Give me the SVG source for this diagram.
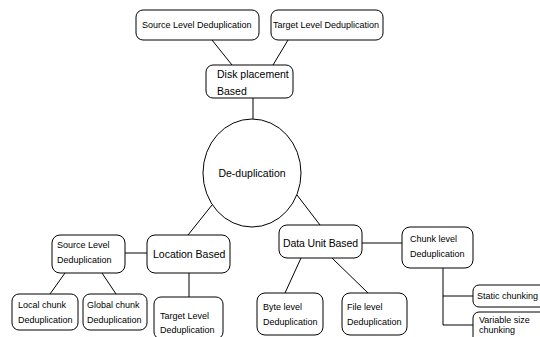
<svg xmlns="http://www.w3.org/2000/svg" width="540" height="337" viewBox="0 0 540 337">
<style>
.b{fill:#fff;stroke:#000;stroke-width:1}
.c{stroke:#000;stroke-width:1;fill:none}
text{font-family:"Liberation Sans",Arial,sans-serif;fill:#000}
.s{font-size:9px}
.m{font-size:10.5px}
</style>
<rect width="540" height="337" fill="#fff"/>
<g id="connectors">
<line class="c" x1="212" y1="40" x2="232" y2="65"/>
<line class="c" x1="288" y1="40" x2="273" y2="65"/>
<line class="c" x1="253" y1="98" x2="253" y2="119"/>
<line class="c" x1="212" y1="205" x2="188" y2="235"/>
<line class="c" x1="297" y1="195" x2="320" y2="225"/>
<line class="c" x1="125" y1="253" x2="147" y2="253"/>
<line class="c" x1="65" y1="273" x2="50" y2="294"/>
<line class="c" x1="102" y1="273" x2="116" y2="294"/>
<line class="c" x1="189" y1="273" x2="189" y2="297"/>
<line class="c" x1="362" y1="243" x2="402" y2="243"/>
<line class="c" x1="301" y1="258" x2="285" y2="293"/>
<line class="c" x1="332" y1="258" x2="368" y2="293"/>
<line class="c" x1="443" y1="268" x2="443" y2="325"/>
<line class="c" x1="443" y1="296" x2="473" y2="296"/>
<line class="c" x1="443" y1="325" x2="473" y2="325"/>
</g>
<g id="source-top"><rect class="b" x="136" y="10" width="123" height="30" rx="7"/><text class="s" x="142" y="28">Source Level Deduplication</text></g>
<g id="target-top"><rect class="b" x="271" y="10" width="112" height="30" rx="7"/><text class="s" x="273" y="28">Target Level Deduplication</text></g>
<g id="disk"><rect class="b" x="206" y="65" width="87" height="33" rx="7"/><text class="m" x="217" y="78">Disk placement</text><text class="m" x="217" y="95">Based</text></g>
<g id="dedup"><ellipse class="b" cx="252" cy="173" rx="49" ry="54"/><text class="m" x="252" y="177" text-anchor="middle">De-duplication</text></g>
<g id="location"><rect class="b" x="147" y="235" width="83" height="38" rx="8"/><text class="m" x="153" y="258">Location Based</text></g>
<g id="source-bottom"><rect class="b" x="52" y="235" width="73" height="38" rx="8"/><text class="s" x="57" y="248">Source Level</text><text class="s" x="57" y="263">Deduplication</text></g>
<g id="local"><rect class="b" x="12" y="294" width="66" height="36" rx="7"/><text class="s" x="18" y="308">Local chunk</text><text class="s" x="18" y="323">Deduplication</text></g>
<g id="global"><rect class="b" x="83" y="294" width="64" height="36" rx="7"/><text class="s" x="87" y="308">Global chunk</text><text class="s" x="87" y="323">Deduplication</text></g>
<g id="target-bottom"><rect class="b" x="154" y="297" width="69" height="42" rx="7"/><text class="s" x="160" y="319">Target Level</text><text class="s" x="160" y="333">Deduplication</text></g>
<g id="dataunit"><rect class="b" x="279" y="225" width="83" height="33" rx="8"/><text class="m" x="283" y="247" textLength="75">Data Unit Based</text></g>
<g id="chunk"><rect class="b" x="402" y="227" width="71" height="41" rx="8"/><text class="s" x="410" y="242">Chunk level</text><text class="s" x="410" y="257">Deduplication</text></g>
<g id="byte"><rect class="b" x="257" y="293" width="66" height="42" rx="8"/><text class="s" x="263" y="310">Byte level</text><text class="s" x="263" y="325">Deduplication</text></g>
<g id="file"><rect class="b" x="342" y="293" width="65" height="42" rx="8"/><text class="s" x="347" y="310">File level</text><text class="s" x="347" y="325">Deduplication</text></g>
<g id="static"><rect class="b" x="473" y="285" width="75" height="22" rx="6"/><text class="s" x="477" y="299">Static chunking</text></g>
<g id="variable"><rect class="b" x="473" y="312" width="75" height="35" rx="6"/><text class="s" x="479" y="323">Variable size</text><text class="s" x="479" y="333">chunking</text></g>
</svg>
